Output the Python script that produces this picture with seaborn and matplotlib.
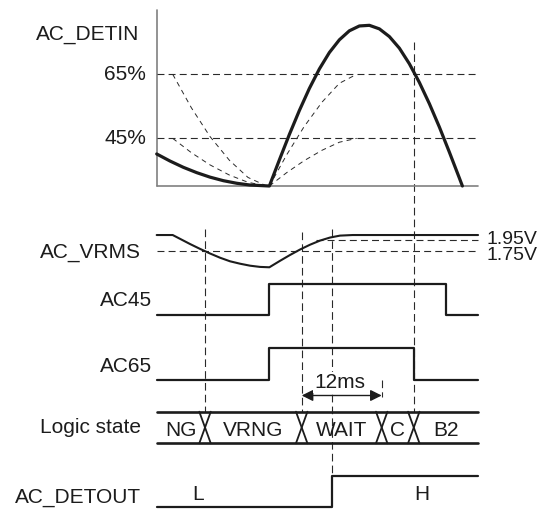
import numpy as np
import pandas as pd
import seaborn as sns
import matplotlib.pyplot as plt

# ---- data (time in ms, 12 ms = WAIT window) ----
t_end = 48.2
t_vrng = 7.25       # AC_VRMS below 1.75V
t_zero = 16.9       # AC_DETIN zero crossing, AC45 / AC65 rise
t_wait = 21.75      # AC_VRMS back above 1.75V
t_detout = 26.25    # AC_VRMS above 1.95V -> AC_DETOUT high
t_c = 33.75         # end of the 12 ms wait
t_b2 = 38.56        # AC65 falls
t_ac45_off = 43.4   # AC45 falls

# AC_DETIN as fraction of peak
detin_t = [0, 2, 4, 6, 8, 10, 12, 14, 16.9,
           18.4, 19.9, 21.4, 22.9, 24.4, 25.9, 27.4, 28.9, 30.4, 31.9,
           33.4, 34.9, 36.4, 37.9, 39.4, 40.9, 42.4, 43.9, 45.4, 45.85]
detin = [.199, .155, .116, .083, .055, .033, .017, .006, 0,
         .162, .320, .469, .606, .727, .829, .908, .964, .994, .998,
         .976, .928, .856, .759, .643, .511, .366, .210, .049, 0]
thr_levels = [0.694, 0.296]
thr_labels = ["65%", "45%"]
fall_t = [2.4, 5.2, 8.0, 10.9, 13.7, 16.5]
fall_hi = [.694, .486, .307, .160, .053, 0]
fall_lo = [.296, .207, .131, .068, .023, 0]
rise_t = [16.9, 19.5, 22.1, 24.8, 27.4, 30.0]
rise_hi = [0, .194, .368, .521, .638, .694]
rise_lo = [0, .083, .157, .222, .272, .296]

# AC_VRMS in volts
vrms_t = [0, 2.4, 3.5, 5.0, 6.5, 8.0, 9.5, 11.0, 12.5, 14.0, 15.5, 16.9,
          18.5, 20.0, 21.5, 23.0, 24.5, 26.0, 27.5, 29.4, 48.2]
vrms_v = [2.043, 2.043, 1.972, 1.875, 1.784, 1.698, 1.619, 1.552, 1.507, 1.470,
          1.447, 1.440, 1.561, 1.670, 1.772, 1.862, 1.939, 1.996, 2.032, 2.043, 2.043]
vrms_thr = [1.95, 1.75]
vrms_thr_from = [23.85, 0]
vrms_thr_labels = ["1.95V", "1.75V"]

# digital lines
ac45_t = [0, t_zero, t_ac45_off, t_end]
ac45 = [0, 1, 0, 0]
ac65_t = [0, t_zero, t_b2, t_end]
ac65 = [0, 1, 0, 0]
detout_t = [0, t_detout, t_end]
detout = [0, 1, 1]
detout_labels = ["L", "H"]
states = ["NG", "VRNG", "WAIT", "C", "B2"]
state_edges = [0, t_vrng, t_wait, t_c, t_b2, t_end]

# ---- lane placement (rows from top) ----
def row_detin(v): return 186 - 161 * np.asarray(v)
def row_vrms(v): return 250.7 - 53.5 * (np.asarray(v) - 1.75)
def row_ac45(v): return 315.3 - 31.5 * np.asarray(v)
def row_ac65(v): return 380 - 32 * np.asarray(v)
def row_detout(v): return 506.7 - 30.7 * np.asarray(v)
logic_top, logic_bot = 411.7, 443.3

sns.set_theme(style="white")
plt.rcParams["font.family"] = ["Liberation Sans", "DejaVu Sans"]
plt.rcParams["lines.scale_dashes"] = False

fig = plt.figure(figsize=(5.41, 5.09), dpi=100)
ax = fig.add_axes([0, 0, 1, 1])
ax.set_xlim(-23.5, 57.64)
ax.set_ylim(509, 0)
ax.axis("off")

ink = "#1c1c1c"
dk = "#2a2a2a"
fs = 15
dash_h = (0, (5, 3))
dash_v = (0, (5.5, 3))
dash_c = (0, (3.5, 3))

# DETIN frame
ax.plot([0, 0], [10, row_detin(0)], color="#808080", lw=1.2)
ax.plot([0, t_end], [row_detin(0)] * 2, color="#808080", lw=1.2)
for lvl, lab in zip(thr_levels, thr_labels):
    ax.plot([0, t_end], [row_detin(lvl)] * 2, color=dk, lw=0.8, ls=dash_h)
    ax.text(-1.6, row_detin(lvl), lab, ha="right", va="center", fontsize=fs, color=ink)
for tt, yy in [(fall_t, fall_hi), (fall_t, fall_lo), (rise_t, rise_hi), (rise_t, rise_lo)]:
    ax.plot(tt, row_detin(yy), color=dk, lw=0.7, ls=dash_c)
sns.lineplot(x=detin_t, y=row_detin(detin), ax=ax, color=ink, lw=2.3,
             sort=False, estimator=None, solid_joinstyle="round")

# vertical markers
vmarks = [(t_vrng, 229, logic_top), (t_wait, 232, logic_top),
          (t_detout, 229, row_detout(1)), (t_c, 380, 397), (t_b2, 41.7, logic_top)]
for tx, y0, y1 in vmarks:
    ax.plot([tx, tx], [y0, y1], color=dk, lw=0.8, ls=dash_v, zorder=1)

# AC_VRMS
for v, t0 in zip(vrms_thr, vrms_thr_from):
    ax.plot([t0, t_end], [row_vrms(v)] * 2, color=dk, lw=0.8, ls=dash_h)
ax.text(49.4, row_vrms(vrms_thr[0]) + 4.0, vrms_thr_labels[0], ha="left", va="baseline",
        fontsize=14, color=ink)
ax.text(49.4, row_vrms(vrms_thr[1]) + 9.0, vrms_thr_labels[1], ha="left", va="baseline",
        fontsize=14, color=ink)
sns.lineplot(x=vrms_t, y=row_vrms(vrms_v), ax=ax, color=ink, lw=1.5,
             sort=False, estimator=None)

# AC45 / AC65 / AC_DETOUT
ax.plot(ac45_t, row_ac45(ac45), drawstyle="steps-post", color=ink, lw=1.6)
ax.plot(ac65_t, row_ac65(ac65), drawstyle="steps-post", color=ink, lw=1.6)
ax.plot(detout_t, row_detout(detout), drawstyle="steps-post", color=ink, lw=1.6)

# 12ms arrow
ax.annotate("", xy=(t_wait, 395.5), xytext=(t_c, 395.5),
            arrowprops=dict(arrowstyle="<|-|>", color=ink, lw=1.0,
                            mutation_scale=17, shrinkA=0, shrinkB=0))
ax.text(27.4, 388, "12ms", ha="center", va="baseline", fontsize=fs, color=ink,
        zorder=5, bbox=dict(facecolor="white", edgecolor="none", pad=0.5))

# logic state bus
ax.plot([0, t_end], [logic_top] * 2, color=ink, lw=1.9)
ax.plot([0, t_end], [logic_bot] * 2, color=ink, lw=1.9)
hw = 0.86
for e in state_edges[1:-1]:
    ax.plot([e - hw, e + hw], [logic_top, logic_bot], color=ink, lw=1.3)
    ax.plot([e + hw, e - hw], [logic_top, logic_bot], color=ink, lw=1.3)
for s, a, b in zip(states, state_edges[:-1], state_edges[1:]):
    ax.text((a + b) / 2, 436, s, ha="center", va="baseline", fontsize=fs, color=ink)

ax.text(6.2, 500.5, detout_labels[0], ha="center", va="baseline", fontsize=fs, color=ink)
ax.text(39.7, 500.5, detout_labels[1], ha="center", va="baseline", fontsize=fs, color=ink)

# row names
names = [("AC_DETIN", -2.6, 39.3), ("AC_VRMS", -2.35, 257.3), ("AC45", -0.75, 306),
         ("AC65", -0.75, 372), ("Logic state", -2.35, 433.3), ("AC_DETOUT", -2.35, 502.3)]
for lab, tx, yb in names:
    ax.text(tx, yb, lab, ha="right", va="baseline", fontsize=fs, color=ink)

fig.savefig("out.png", dpi=100)
